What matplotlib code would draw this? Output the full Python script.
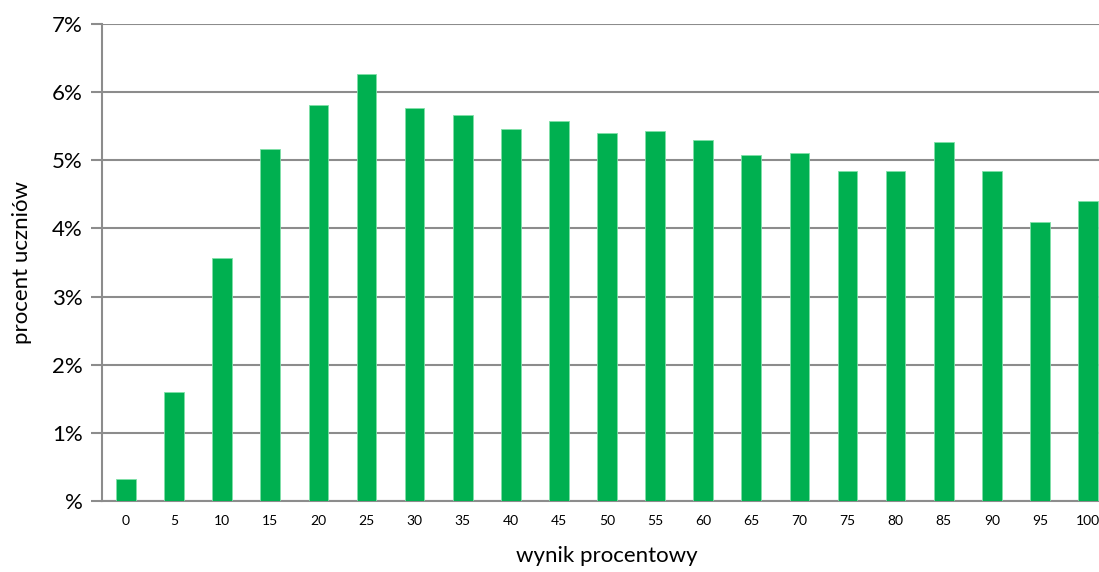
import matplotlib.pyplot as plt
import numpy as np
from matplotlib.ticker import FuncFormatter

plt.rcParams['font.family'] = ['Lato', 'DejaVu Sans']

# wynik procentowy (categories) and share of students in %
scores = [0, 5, 10, 15, 20, 25, 30, 35, 40, 45, 50,
          55, 60, 65, 70, 75, 80, 85, 90, 95, 100]
share = [0.32, 1.60, 3.57, 5.16, 5.81, 6.27, 5.77, 5.67, 5.46, 5.58, 5.40,
         5.43, 5.30, 5.08, 5.10, 4.84, 4.85, 5.27, 4.84, 4.10, 4.40]
ytick_labels = ['%', '1%', '2%', '3%', '4%', '5%', '6%', '7%']

W, H = 1099, 572
fig = plt.figure(figsize=(W / 100, H / 100), dpi=100)
# plot area runs a bit past the right edge of the picture, as in the original
left, right, top, bottom = 102, 1112, 24, 501
ax = fig.add_axes([left / W, 1 - bottom / H, (right - left) / W, (bottom - top) / H])

x = np.arange(len(scores))
ax.bar(x, share, width=0.41, color='#00B050', edgecolor='#7fe0a8', linewidth=0.6, zorder=3)

ax.set_xlim(-0.5, len(scores) - 0.5)
ax.set_ylim(0, 7)
ax.set_yticks(range(8))
ax.yaxis.set_major_formatter(FuncFormatter(lambda v, p: ytick_labels[int(round(v))]))
ax.set_xticks(x)
ax.set_xticklabels([str(s) for s in scores], fontsize=10)

# grid and spines
ax.grid(axis='y', color='#8c8c8c', linewidth=1.5, zorder=0)
for s in ['top', 'right']:
    ax.spines[s].set_visible(False)
ax.spines['left'].set_color('#8c8c8c')
ax.spines['left'].set_linewidth(1.5)
ax.spines['bottom'].set_color('#8c8c8c')
ax.spines['bottom'].set_linewidth(1.5)
ax.tick_params(axis='y', length=8, width=1.5, color='#8c8c8c', labelsize=16, pad=6)
ax.tick_params(axis='x', length=0, pad=10)

ax.set_xlabel('wynik procentowy', fontsize=16, labelpad=14)
ax.set_ylabel('procent uczniów', fontsize=16, labelpad=14)

fig.savefig('out.png', dpi=100)
